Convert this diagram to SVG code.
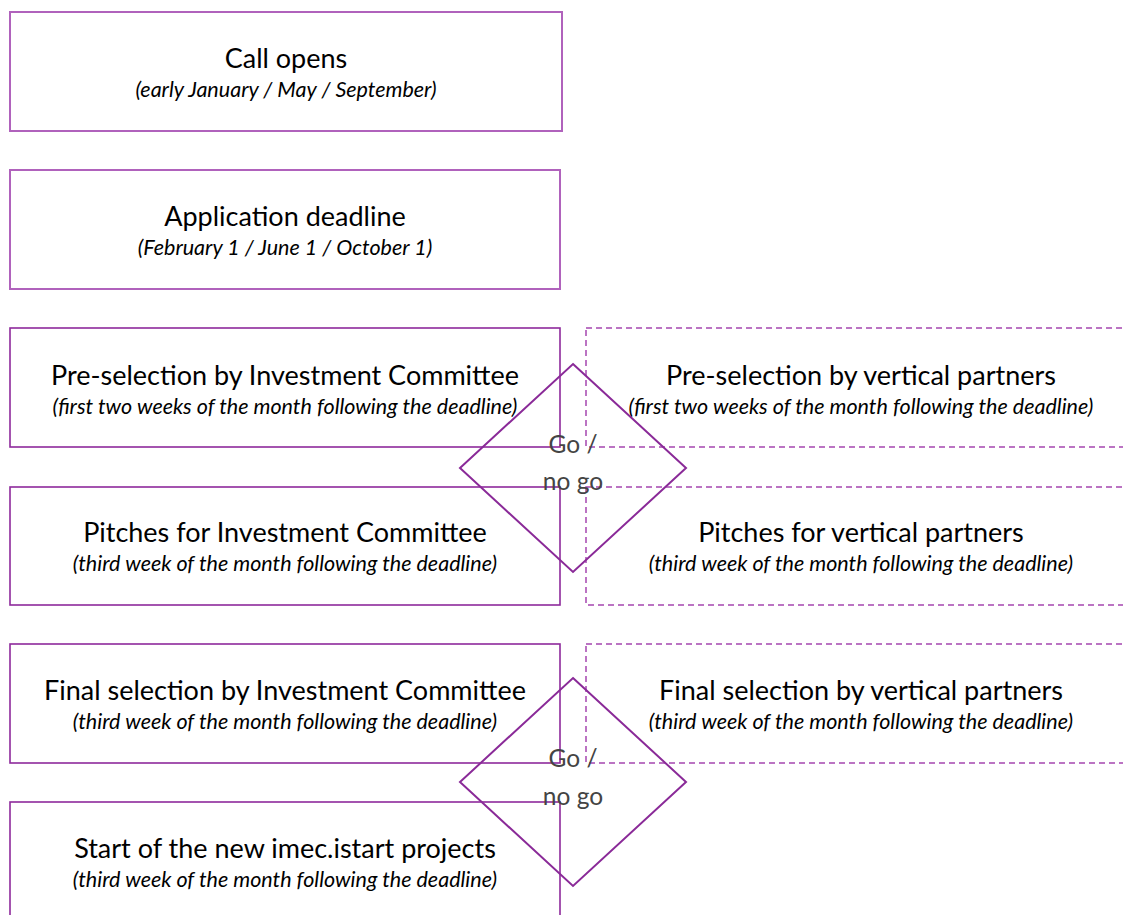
<svg xmlns="http://www.w3.org/2000/svg" width="1123" height="915" viewBox="0 0 1123 915">
<style>
.bx{fill:none;stroke:#8e2a9c;stroke-width:1.6}
.bxl{fill:none;stroke:#b062bc;stroke-width:2}
.dbx{fill:none;stroke:#a545b0;stroke-width:1.5;stroke-dasharray:6 4}
.dia{fill:none;stroke:#8a2a98;stroke-width:2}
.t{font-family:Lato,"Open Sans","Liberation Sans",sans-serif;font-size:27px;fill:#000;text-anchor:middle}
.s{font-family:Lato,"Open Sans","Liberation Sans",sans-serif;font-size:21.5px;font-style:italic;fill:#000;text-anchor:middle}
.g{font-family:Lato,"Open Sans","Liberation Sans",sans-serif;font-size:24.5px;fill:#444;text-anchor:middle}
</style>
<rect width="1123" height="915" fill="#fff"/>
<g id="n-call-opens">
<rect class="bxl" x="10" y="12" width="552" height="119"/>
<text class="t" x="286" y="68">Call opens</text>
<text class="s" x="286" y="97">(early January / May / September)</text>
</g>
<g id="n-deadline">
<rect class="bxl" x="10" y="170" width="550" height="119"/>
<text class="t" x="285" y="226">Application deadline</text>
<text class="s" x="285" y="255">(February 1 / June 1 / October 1)</text>
</g>
<g id="n-pre-ic">
<rect class="bx" x="10" y="328" width="550" height="119"/>
<text class="t" x="285" y="385">Pre-selection by Investment Committee</text>
<text class="s" x="285" y="414">(first two weeks of the month following the deadline)</text>
</g>
<g id="n-pitch-ic">
<rect class="bx" x="10" y="487" width="550" height="118"/>
<text class="t" x="285" y="542">Pitches for Investment Committee</text>
<text class="s" x="285" y="571">(third week of the month following the deadline)</text>
</g>
<g id="n-final-ic">
<rect class="bx" x="10" y="644" width="550" height="119"/>
<text class="t" x="285" y="700">Final selection by Investment Committee</text>
<text class="s" x="285" y="729">(third week of the month following the deadline)</text>
</g>
<g id="n-start">
<rect class="bx" x="10" y="802" width="550" height="130"/>
<text class="t" x="285" y="858">Start of the new imec.istart projects</text>
<text class="s" x="285" y="887">(third week of the month following the deadline)</text>
</g>
<g id="n-pre-vp">
<rect class="dbx" x="586" y="328" width="560" height="119"/>
<text class="t" x="861" y="385">Pre-selection by vertical partners</text>
<text class="s" x="861" y="414">(first two weeks of the month following the deadline)</text>
</g>
<g id="n-pitch-vp">
<rect class="dbx" x="586" y="487" width="560" height="118"/>
<text class="t" x="861" y="542">Pitches for vertical partners</text>
<text class="s" x="861" y="571">(third week of the month following the deadline)</text>
</g>
<g id="n-final-vp">
<rect class="dbx" x="586" y="644" width="560" height="119"/>
<text class="t" x="861" y="700">Final selection by vertical partners</text>
<text class="s" x="861" y="729">(third week of the month following the deadline)</text>
</g>
<g id="n-go1">
<polygon class="dia" points="573,364 686,468 573,572 460,468"/>
<text class="g" x="573" y="453">Go /</text>
<text class="g" x="573" y="490">no go</text>
</g>
<g id="n-go2">
<polygon class="dia" points="573,678 686,782 573,886 460,782"/>
<text class="g" x="573" y="767">Go /</text>
<text class="g" x="573" y="805">no go</text>
</g>
<g id="connectors"></g>
</svg>
